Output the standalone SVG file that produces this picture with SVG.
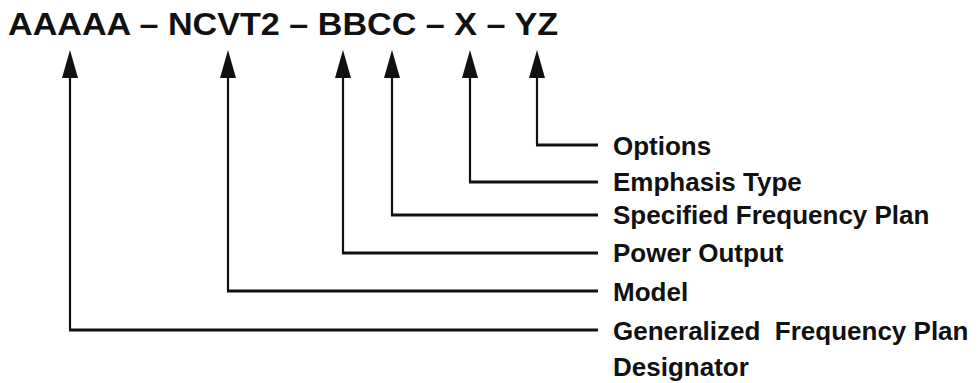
<svg xmlns="http://www.w3.org/2000/svg" width="980" height="383" viewBox="0 0 980 383">
  <defs>
    <style>
      .code { font-family: "Liberation Sans", Arial, sans-serif; font-weight: bold; font-size: 32px; fill: #111; }
      .lbl { font-family: "Liberation Sans", Arial, sans-serif; font-weight: bold; font-size: 26px; fill: #111; }
      .stem { fill: none; stroke: #111; stroke-width: 2.2; }
      .lead { fill: none; stroke: #111; stroke-width: 3; }
      .tip { fill: #111; }
    </style>
  </defs>
  <rect width="980" height="383" fill="#fff"/>

  <g id="code">
    <text class="code" x="8" y="35" textLength="550" lengthAdjust="spacingAndGlyphs">AAAAA – NCVT2 – BBCC – X – YZ</text>
  </g>

  <g id="connectors">
    <!-- arrowheads under each field -->
    <path class="tip" d="M70,50 L62,78 L78,78 Z"/>
    <path class="tip" d="M228,50 L220,78 L236,78 Z"/>
    <path class="tip" d="M343,50 L335,78 L351,78 Z"/>
    <path class="tip" d="M392,50 L384,78 L400,78 Z"/>
    <path class="tip" d="M470,50 L462,78 L478,78 Z"/>
    <path class="tip" d="M537,50 L529,78 L545,78 Z"/>
    <!-- elbow leaders to the labels -->
    <path class="stem" d="M537,76 V145"/><path class="lead" d="M536,145 H598"/>
    <path class="stem" d="M470,76 V182"/><path class="lead" d="M469,182 H598"/>
    <path class="stem" d="M392,76 V215"/><path class="lead" d="M391,215 H598"/>
    <path class="stem" d="M343,76 V253"/><path class="lead" d="M342,253 H598"/>
    <path class="stem" d="M228,76 V291"/><path class="lead" d="M227,291 H598"/>
    <path class="stem" d="M70,76 V330"/><path class="lead" d="M69,330 H598"/>
  </g>

  <g id="options"><text class="lbl" x="613" y="155">Options</text></g>
  <g id="emphasis"><text class="lbl" x="613" y="191">Emphasis Type</text></g>
  <g id="specified"><text class="lbl" x="613" y="224">Specified Frequency Plan</text></g>
  <g id="power"><text class="lbl" x="613" y="262">Power Output</text></g>
  <g id="model"><text class="lbl" x="613" y="301">Model</text></g>
  <g id="generalized">
    <text class="lbl" x="613" y="340" xml:space="preserve">Generalized  Frequency Plan</text>
    <text class="lbl" x="613" y="376">Designator</text>
  </g>
</svg>
